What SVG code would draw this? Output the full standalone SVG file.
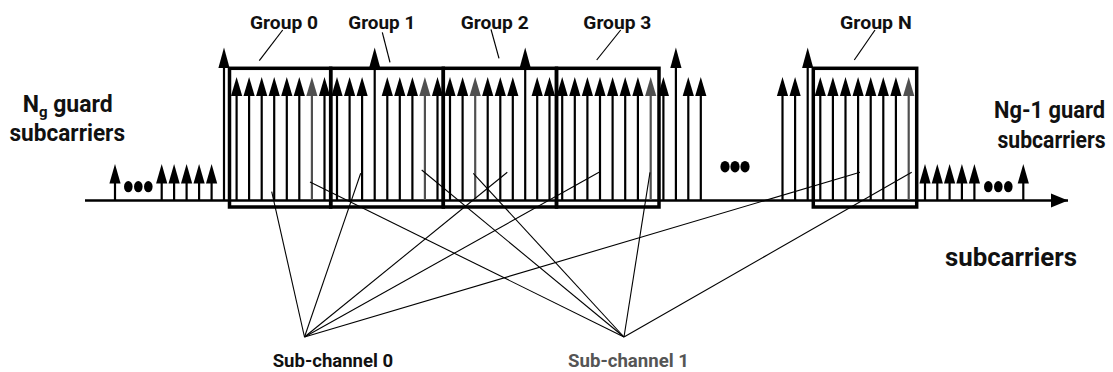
<svg xmlns="http://www.w3.org/2000/svg" xmlns:xlink="http://www.w3.org/1999/xlink" width="1113" height="372" viewBox="0 0 1113 372" style="color:#000">
  <style>
    .lbl { font-family: Roboto, "Liberation Sans", Arial, sans-serif; font-weight: bold; fill: #111; }
    .grp { font-size: 19px; }
    .guard { font-size: 23px; }
    .axisl { font-size: 26px; }
    .sub { font-size: 19px; }
    .box { fill: none; stroke: #000; stroke-width: 3.5; }
    .lead { stroke: #000; stroke-width: 1.2; fill: none; }
    .link { stroke: #000; stroke-width: 1.1; fill: none; }
    .axis { stroke: #000; stroke-width: 2.4; }
    .dot { fill: #000; }
  </style>
  <defs>
    <!-- regular subcarrier: head at y 77..96, stem down to the axis -->
    <g id="sc">
      <line x1="0" y1="92" x2="0" y2="200" stroke="currentColor" stroke-width="2.2"/>
      <path d="M0,77 L5.6,96 L-5.6,96 Z" fill="currentColor"/>
    </g>
    <!-- pilot (tall) subcarrier -->
    <g id="sct">
      <line x1="0" y1="63" x2="0" y2="200" stroke="currentColor" stroke-width="2.2"/>
      <path d="M0,47.5 L5.6,68 L-5.6,68 Z" fill="currentColor"/>
    </g>
    <!-- guard subcarrier -->
    <g id="scg">
      <line x1="0" y1="178" x2="0" y2="200" stroke="currentColor" stroke-width="2.2"/>
      <path d="M0,164 L5.6,183.5 L-5.6,183.5 Z" fill="currentColor"/>
    </g>
    <marker id="axhead" markerWidth="18" markerHeight="16" refX="17" refY="8" orient="auto" markerUnits="userSpaceOnUse">
      <path d="M0,1 L17,8 L0,15 Z" fill="#000"/>
    </marker>
  </defs>

  <!-- frequency axis -->
  <line class="axis" x1="85" y1="200.5" x2="1068" y2="200.5" marker-end="url(#axhead)"/>

  <!-- left guard band -->
  <g id="guard-left">
    <use xlink:href="#scg" x="115"/>
    <ellipse class="dot" cx="128.3" cy="186.7" rx="4.3" ry="5.6"/>
    <ellipse class="dot" cx="138.3" cy="186.7" rx="4.3" ry="5.6"/>
    <ellipse class="dot" cx="148.3" cy="186.7" rx="4.3" ry="5.6"/>
    <use xlink:href="#scg" x="161.7"/>
    <use xlink:href="#scg" x="174.1"/>
    <use xlink:href="#scg" x="186.6"/>
    <use xlink:href="#scg" x="199.1"/>
    <use xlink:href="#scg" x="211.6"/>
    <text class="lbl guard" x="22.7" y="111.5">N<tspan font-size="15" dy="5">g</tspan><tspan dy="-5"> guard</tspan></text>
    <text class="lbl guard" x="9.5" y="141" textLength="115.5" lengthAdjust="spacingAndGlyphs">subcarriers</text>
  </g>

  <!-- pilot before group 0 -->
  <use xlink:href="#sct" x="224"/>

  <g id="group-0">
    <use xlink:href="#sc" x="236.6"/>
    <use xlink:href="#sc" x="249.1"/>
    <use xlink:href="#sc" x="261.7"/>
    <use xlink:href="#sc" x="274.2"/>
    <use xlink:href="#sc" x="286.8"/>
    <use xlink:href="#sc" x="299.3"/>
    <use xlink:href="#sc" x="311.9" color="#505050"/>
    <use xlink:href="#sc" x="324.5"/>
    <rect class="box" x="229.5" y="68.3" width="101.2" height="138.7"/>
    <line class="lead" x1="282.7" y1="30" x2="259.3" y2="60.7"/>
    <text class="lbl grp" x="250" y="28.5" textLength="68" lengthAdjust="spacingAndGlyphs">Group 0</text>
  </g>

  <g id="group-1">
    <use xlink:href="#sc" x="337"/>
    <use xlink:href="#sc" x="349.6"/>
    <use xlink:href="#sc" x="362.1"/>
    <use xlink:href="#sct" x="374.7"/>
    <use xlink:href="#sc" x="387.3"/>
    <use xlink:href="#sc" x="399.8"/>
    <use xlink:href="#sc" x="412.4"/>
    <use xlink:href="#sc" x="424.9" color="#505050"/>
    <use xlink:href="#sc" x="437.5"/>
    <rect class="box" x="330.7" y="68.3" width="112.6" height="138.7"/>
    <line class="lead" x1="382.3" y1="32.3" x2="390" y2="62.3"/>
    <text class="lbl grp" x="348.3" y="28.5" textLength="67" lengthAdjust="spacingAndGlyphs">Group 1</text>
  </g>

  <g id="group-2">
    <use xlink:href="#sc" x="450"/>
    <use xlink:href="#sc" x="462.6"/>
    <use xlink:href="#sc" x="475.2" color="#505050"/>
    <use xlink:href="#sc" x="487.7"/>
    <use xlink:href="#sc" x="500.3"/>
    <use xlink:href="#sc" x="512.8"/>
    <use xlink:href="#sct" x="525.2"/>
    <use xlink:href="#sc" x="537.2"/>
    <use xlink:href="#sc" x="549.5"/>
    <rect class="box" x="443.3" y="68.3" width="113.2" height="138.7"/>
    <line class="lead" x1="491" y1="29.3" x2="499" y2="58.3"/>
    <text class="lbl grp" x="460.7" y="28.5" textLength="68" lengthAdjust="spacingAndGlyphs">Group 2</text>
  </g>

  <g id="group-3">
    <use xlink:href="#sc" x="562.2"/>
    <use xlink:href="#sc" x="574.8"/>
    <use xlink:href="#sc" x="587.4"/>
    <use xlink:href="#sc" x="600"/>
    <use xlink:href="#sc" x="612.6"/>
    <use xlink:href="#sc" x="625.2"/>
    <use xlink:href="#sc" x="637.9"/>
    <use xlink:href="#sc" x="650.7" color="#505050"/>
    <rect class="box" x="556.5" y="68.3" width="102.5" height="138.7"/>
    <line class="lead" x1="620.7" y1="30" x2="596.7" y2="60"/>
    <text class="lbl grp" x="583.3" y="28.5" textLength="68" lengthAdjust="spacingAndGlyphs">Group 3</text>
  </g>

  <!-- subcarriers between group 3 and group N -->
  <g id="middle-carriers">
    <use xlink:href="#sc" x="663.4"/>
    <use xlink:href="#sct" x="675.9"/>
    <use xlink:href="#sc" x="688.3"/>
    <use xlink:href="#sc" x="700.8"/>
    <ellipse class="dot" cx="725" cy="166.7" rx="4.6" ry="5.8"/>
    <ellipse class="dot" cx="735" cy="166.7" rx="4.6" ry="5.8"/>
    <ellipse class="dot" cx="745" cy="166.7" rx="4.6" ry="5.8"/>
    <use xlink:href="#sc" x="782.5"/>
    <use xlink:href="#sc" x="795.1"/>
    <use xlink:href="#sct" x="807.7"/>
  </g>

  <g id="group-n">
    <use xlink:href="#sc" x="820.3"/>
    <use xlink:href="#sc" x="832.9"/>
    <use xlink:href="#sc" x="845.5"/>
    <use xlink:href="#sc" x="858.1"/>
    <use xlink:href="#sc" x="870.7"/>
    <use xlink:href="#sc" x="883.3"/>
    <use xlink:href="#sc" x="895.9"/>
    <use xlink:href="#sc" x="908.7" color="#505050"/>
    <rect class="box" x="813.3" y="68.3" width="103.4" height="138.7"/>
    <line class="lead" x1="875" y1="30" x2="854.3" y2="60"/>
    <text class="lbl grp" x="840" y="28.5" textLength="71.7" lengthAdjust="spacingAndGlyphs">Group N</text>
  </g>

  <!-- right guard band -->
  <g id="guard-right">
    <use xlink:href="#scg" x="925"/>
    <use xlink:href="#scg" x="937.3"/>
    <use xlink:href="#scg" x="949.6"/>
    <use xlink:href="#scg" x="961.9"/>
    <use xlink:href="#scg" x="974.4"/>
    <ellipse class="dot" cx="988.3" cy="186.7" rx="4.3" ry="5.6"/>
    <ellipse class="dot" cx="998.3" cy="186.7" rx="4.3" ry="5.6"/>
    <ellipse class="dot" cx="1008.3" cy="186.7" rx="4.3" ry="5.6"/>
    <use xlink:href="#scg" x="1023.3"/>
    <text class="lbl guard" x="994" y="118.3" textLength="111" lengthAdjust="spacingAndGlyphs">Ng-1 guard</text>
    <text class="lbl guard" x="997.5" y="148.3" textLength="108" lengthAdjust="spacingAndGlyphs">subcarriers</text>
  </g>

  <text id="axis-label" class="lbl axisl" x="945" y="266" textLength="132" lengthAdjust="spacingAndGlyphs">subcarriers</text>

  <!-- sub-channel to subcarrier allocation -->
  <g id="connectors">
    <line class="link" x1="304.5" y1="337" x2="271.7" y2="191.7"/>
    <line class="link" x1="304.5" y1="337" x2="360.7" y2="173.3"/>
    <line class="link" x1="304.5" y1="337" x2="507.3" y2="172.3"/>
    <line class="link" x1="304.5" y1="337" x2="599" y2="172.3"/>
    <line class="link" x1="304.5" y1="337" x2="860" y2="172.3"/>
    <line class="link" x1="624" y1="337" x2="310" y2="182"/>
    <line class="link" x1="624" y1="337" x2="421.7" y2="170"/>
    <line class="link" x1="624" y1="337" x2="473.3" y2="173.3"/>
    <line class="link" x1="624" y1="337" x2="650" y2="172.3"/>
    <line class="link" x1="624" y1="337" x2="911.7" y2="172.3"/>
  </g>

  <g id="sub-channel-0">
    <text class="lbl sub" x="272.7" y="366.5" textLength="120.5" lengthAdjust="spacingAndGlyphs">Sub-channel 0</text>
  </g>
  <g id="sub-channel-1">
    <text class="lbl sub" x="568" y="366.5" textLength="121" lengthAdjust="spacingAndGlyphs" style="fill:#555">Sub-channel 1</text>
  </g>
</svg>
